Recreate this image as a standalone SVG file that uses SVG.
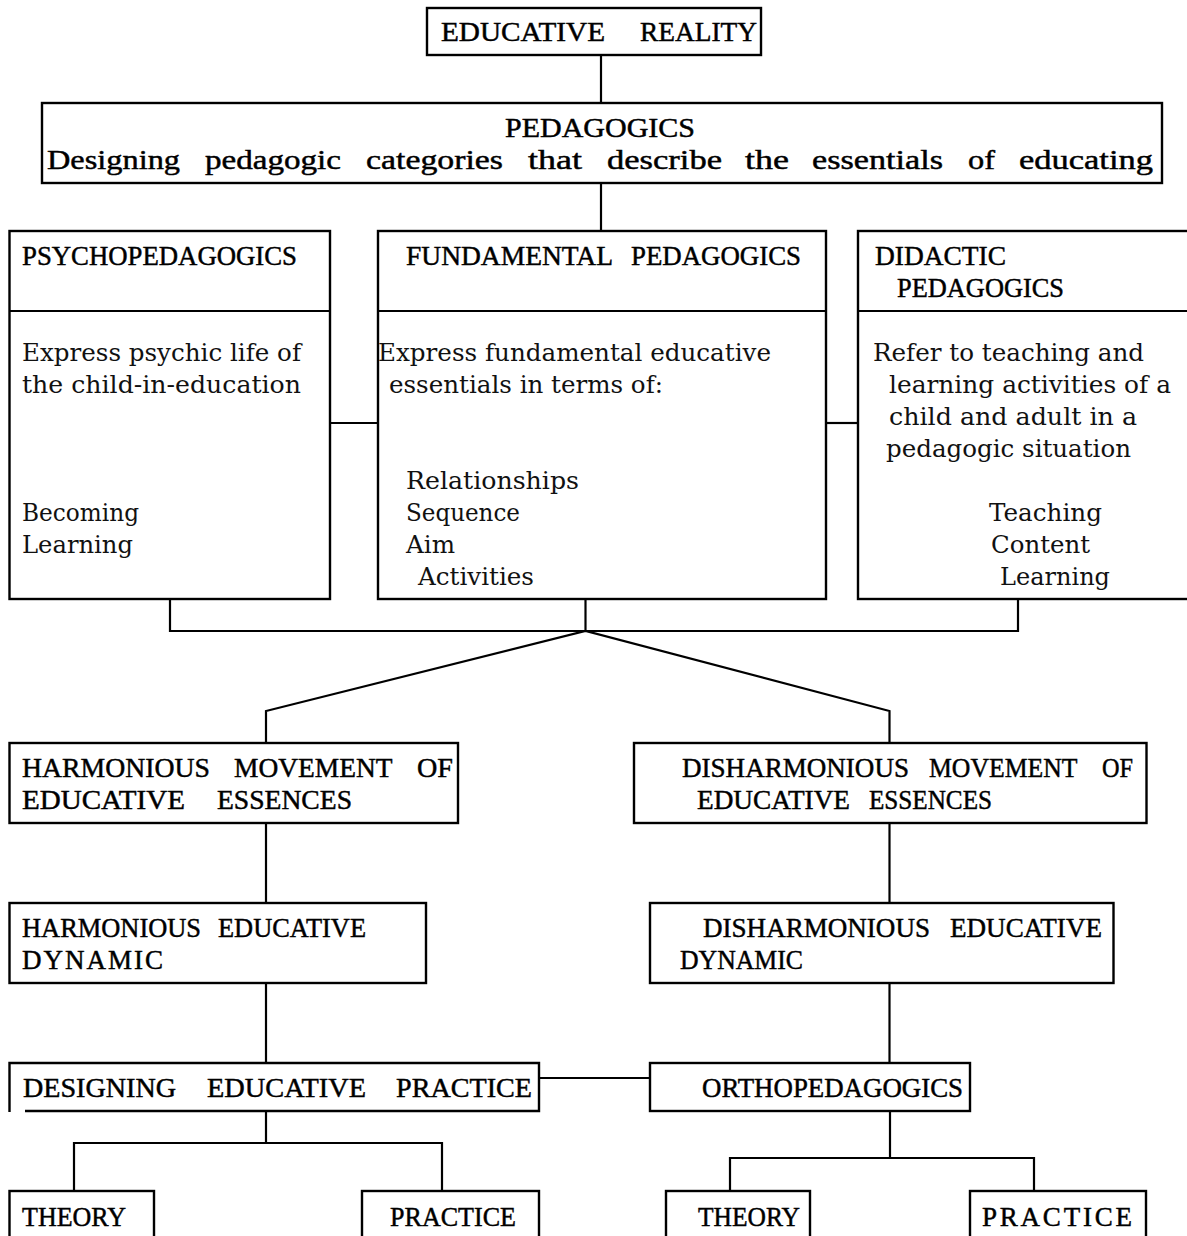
<svg xmlns="http://www.w3.org/2000/svg" width="1187" height="1236" viewBox="0 0 1187 1236">
<style>
.box{fill:#fff;stroke:#000;stroke-width:2.4}
.ln{fill:none;stroke:#000;stroke-width:2.2}
.h{font-family:"Liberation Serif","DejaVu Serif",serif;font-size:27px;fill:#000;stroke:#000;stroke-width:0.45}
.b{font-family:"DejaVu Serif","Liberation Serif",serif;font-size:24px;fill:#111}
</style>
<rect width="1187" height="1236" fill="#fff"/>
<g id="connectors">
<path class="ln" d="M601,55 V103"/>
<path class="ln" d="M601,183 V231"/>
<path class="ln" d="M330,423 H378"/>
<path class="ln" d="M826,423 H858"/>
<path class="ln" d="M170,599 V631 H1018 V599"/>
<path class="ln" d="M585.5,599 V631"/>
<path class="ln" d="M266,743 V711 L585.5,631 L889.5,711 V743"/>
<path class="ln" d="M266,823 V903"/>
<path class="ln" d="M889.5,823 V903"/>
<path class="ln" d="M266,983 V1063"/>
<path class="ln" d="M889.5,983 V1063"/>
<path class="ln" d="M539,1078 H650"/>
<path class="ln" d="M266,1111 V1143"/>
<path class="ln" d="M74,1191 V1143 H442 V1191"/>
<path class="ln" d="M890,1111 V1158"/>
<path class="ln" d="M730,1191 V1158 H1034 V1191"/>
</g>
<g id="educative-reality">
<rect class="box" x="427" y="8" width="334" height="47"/>
<text class="h" y="41"><tspan x="441" textLength="164" lengthAdjust="spacingAndGlyphs">EDUCATIVE</tspan> <tspan x="640" textLength="117" lengthAdjust="spacingAndGlyphs">REALITY</tspan></text>
</g>
<g id="pedagogics">
<rect class="box" x="42" y="103" width="1120" height="80"/>
<text class="h" x="505" y="137" textLength="190" lengthAdjust="spacingAndGlyphs">PEDAGOGICS</text>
<text class="h" y="169"><tspan x="47" textLength="133" lengthAdjust="spacingAndGlyphs">Designing</tspan> <tspan x="205" textLength="136" lengthAdjust="spacingAndGlyphs">pedagogic</tspan> <tspan x="366" textLength="137" lengthAdjust="spacingAndGlyphs">categories</tspan> <tspan x="528" textLength="54" lengthAdjust="spacingAndGlyphs">that</tspan> <tspan x="607" textLength="115" lengthAdjust="spacingAndGlyphs">describe</tspan> <tspan x="745" textLength="44" lengthAdjust="spacingAndGlyphs">the</tspan> <tspan x="812" textLength="131" lengthAdjust="spacingAndGlyphs">essentials</tspan> <tspan x="968" textLength="27" lengthAdjust="spacingAndGlyphs">of</tspan> <tspan x="1019" textLength="134" lengthAdjust="spacingAndGlyphs">educating</tspan></text>
</g>
<g id="psychopedagogics">
<rect class="box" x="9.5" y="231" width="320.5" height="368"/>
<path class="ln" d="M9.5,311 H330"/>
<text class="h" x="22" y="265" textLength="275" lengthAdjust="spacingAndGlyphs">PSYCHOPEDAGOGICS</text>
<text class="b" x="22" y="361" textLength="279" lengthAdjust="spacingAndGlyphs">Express psychic life of</text>
<text class="b" x="22" y="393" textLength="279" lengthAdjust="spacingAndGlyphs">the child-in-education</text>
<text class="b" x="22" y="521" textLength="117" lengthAdjust="spacingAndGlyphs">Becoming</text>
<text class="b" x="22" y="553" textLength="111" lengthAdjust="spacingAndGlyphs">Learning</text>
</g>
<g id="fundamental-pedagogics">
<rect class="box" x="378" y="231" width="448" height="368"/>
<path class="ln" d="M378,311 H826"/>
<text class="h" y="265"><tspan x="406" textLength="206" lengthAdjust="spacingAndGlyphs">FUNDAMENTAL</tspan> <tspan x="631" textLength="170" lengthAdjust="spacingAndGlyphs">PEDAGOGICS</tspan></text>
<text class="b" x="378" y="361" textLength="393" lengthAdjust="spacingAndGlyphs">Express fundamental educative</text>
<text class="b" x="389" y="393" textLength="274" lengthAdjust="spacingAndGlyphs">essentials in terms of:</text>
<text class="b" x="406" y="489" textLength="173" lengthAdjust="spacingAndGlyphs">Relationships</text>
<text class="b" x="406" y="521" textLength="114" lengthAdjust="spacingAndGlyphs">Sequence</text>
<text class="b" x="406" y="553" textLength="49" lengthAdjust="spacingAndGlyphs">Aim</text>
<text class="b" x="418" y="585" textLength="116" lengthAdjust="spacingAndGlyphs">Activities</text>
</g>
<g id="didactic-pedagogics">
<rect class="box" x="858" y="231" width="333" height="368"/>
<path class="ln" d="M858,311 H1191"/>
<text class="h" x="875" y="265" textLength="131" lengthAdjust="spacingAndGlyphs">DIDACTIC</text>
<text class="h" x="897" y="297" textLength="167" lengthAdjust="spacingAndGlyphs">PEDAGOGICS</text>
<text class="b" x="873" y="361" textLength="271" lengthAdjust="spacingAndGlyphs">Refer to teaching and</text>
<text class="b" x="889" y="393" textLength="282" lengthAdjust="spacingAndGlyphs">learning activities of a</text>
<text class="b" x="889" y="425" textLength="248" lengthAdjust="spacingAndGlyphs">child and adult in a</text>
<text class="b" x="886" y="457" textLength="245" lengthAdjust="spacingAndGlyphs">pedagogic situation</text>
<text class="b" x="989" y="521" textLength="113" lengthAdjust="spacingAndGlyphs">Teaching</text>
<text class="b" x="991" y="553" textLength="99" lengthAdjust="spacingAndGlyphs">Content</text>
<text class="b" x="1000" y="585" textLength="110" lengthAdjust="spacingAndGlyphs">Learning</text>
</g>
<g id="harmonious-movement">
<rect class="box" x="9.5" y="743" width="448.5" height="80"/>
<text class="h" y="777"><tspan x="22" textLength="188" lengthAdjust="spacingAndGlyphs">HARMONIOUS</tspan> <tspan x="234" textLength="158" lengthAdjust="spacingAndGlyphs">MOVEMENT</tspan> <tspan x="417" textLength="36" lengthAdjust="spacingAndGlyphs">OF</tspan></text>
<text class="h" y="809"><tspan x="22" textLength="163" lengthAdjust="spacingAndGlyphs">EDUCATIVE</tspan> <tspan x="217" textLength="135" lengthAdjust="spacingAndGlyphs">ESSENCES</tspan></text>
</g>
<g id="disharmonious-movement">
<rect class="box" x="634" y="743" width="512.5" height="80"/>
<text class="h" y="777"><tspan x="682" textLength="227" lengthAdjust="spacingAndGlyphs">DISHARMONIOUS</tspan> <tspan x="929" textLength="148" lengthAdjust="spacingAndGlyphs">MOVEMENT</tspan> <tspan x="1102" textLength="31" lengthAdjust="spacingAndGlyphs">OF</tspan></text>
<text class="h" y="809"><tspan x="697" textLength="153" lengthAdjust="spacingAndGlyphs">EDUCATIVE</tspan> <tspan x="869" textLength="123" lengthAdjust="spacingAndGlyphs">ESSENCES</tspan></text>
</g>
<g id="harmonious-dynamic">
<rect class="box" x="9.5" y="903" width="416.5" height="80"/>
<text class="h" y="937"><tspan x="22" textLength="179" lengthAdjust="spacingAndGlyphs">HARMONIOUS</tspan> <tspan x="218" textLength="148" lengthAdjust="spacingAndGlyphs">EDUCATIVE</tspan></text>
<text class="h" x="22" y="969" textLength="141">DYNAMIC</text>
</g>
<g id="disharmonious-dynamic">
<rect class="box" x="650" y="903" width="463.5" height="80"/>
<text class="h" y="937"><tspan x="703" textLength="227" lengthAdjust="spacingAndGlyphs">DISHARMONIOUS</tspan> <tspan x="950" textLength="152" lengthAdjust="spacingAndGlyphs">EDUCATIVE</tspan></text>
<text class="h" x="680" y="969" textLength="123" lengthAdjust="spacingAndGlyphs">DYNAMIC</text>
</g>
<g id="designing-educative-practice">
<path class="ln" style="stroke-width:2.4" d="M25,1111 H539 V1063 H9.5 V1112"/>
<text class="h" y="1097"><tspan x="23" textLength="153" lengthAdjust="spacingAndGlyphs">DESIGNING</tspan> <tspan x="207" textLength="159" lengthAdjust="spacingAndGlyphs">EDUCATIVE</tspan> <tspan x="396" textLength="136" lengthAdjust="spacingAndGlyphs">PRACTICE</tspan></text>
</g>
<g id="orthopedagogics">
<rect class="box" x="650" y="1063" width="320" height="48"/>
<text class="h" x="702" y="1097" textLength="261" lengthAdjust="spacingAndGlyphs">ORTHOPEDAGOGICS</text>
</g>
<g id="theory-left">
<rect class="box" x="9.5" y="1191" width="144.5" height="60"/>
<text class="h" x="22" y="1226" textLength="104" lengthAdjust="spacingAndGlyphs">THEORY</text>
</g>
<g id="practice-left">
<rect class="box" x="362" y="1191" width="177" height="60"/>
<text class="h" x="390" y="1226" textLength="126" lengthAdjust="spacingAndGlyphs">PRACTICE</text>
</g>
<g id="theory-right">
<rect class="box" x="666" y="1191" width="144" height="60"/>
<text class="h" x="698" y="1226" textLength="102" lengthAdjust="spacingAndGlyphs">THEORY</text>
</g>
<g id="practice-right">
<rect class="box" x="970" y="1191" width="176" height="60"/>
<text class="h" x="982" y="1226" textLength="150">PRACTICE</text>
</g>
</svg>
